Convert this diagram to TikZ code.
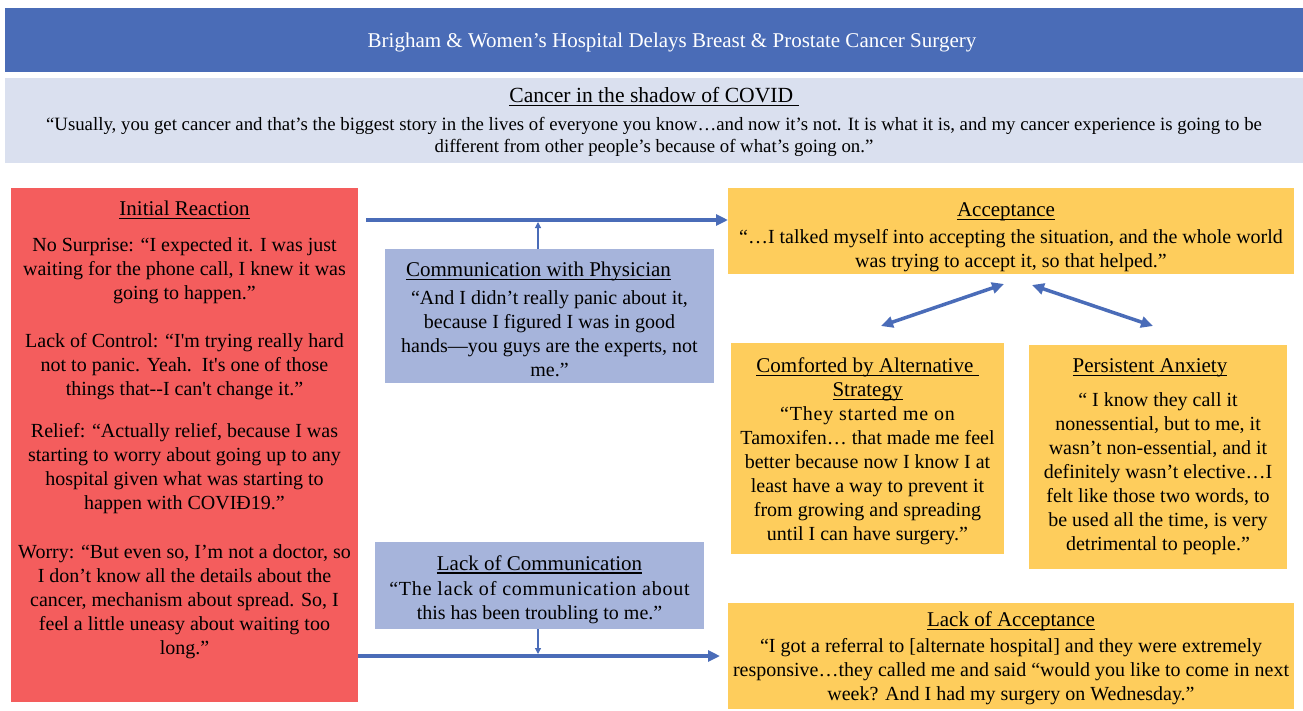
\documentclass[tikz,border=0pt]{standalone}
\usepackage{fontspec}
\setmainfont{Liberation Serif}
\usetikzlibrary{arrows.meta}
\definecolor{headblue}{HTML}{4A6CB7}
\definecolor{bandblue}{HTML}{DAE0EF}
\definecolor{redfill}{HTML}{F45D5D}
\definecolor{bluefill}{HTML}{A6B4DB}
\definecolor{goldfill}{HTML}{FECD5C}
\definecolor{arrowblue}{HTML}{4A6CB8}
\newcommand\undertext[1]{\setbox0\hbox{#1}\rlap{\rule[-3.5pt]{\wd0}{1.1pt}}\box0}
\newcommand\boxtitle[2][0pt]{{\fontsize{21}{24}\selectfont\rule{0pt}{#1}\undertext{#2}}}

\begin{document}
\begin{tikzpicture}[x=1pt,y=-1pt,
  panel/.style={inner sep=0pt,outer sep=0pt,align=center,font=\fontsize{20}{24}\selectfont},
  bigarrow/.style={arrowblue,line width=3.5pt,-{Triangle[length=12pt,width=11pt]}},
  smallarrow/.style={arrowblue,line width=1.2pt,-{Triangle[length=6pt,width=6pt]}},
  duoarrow/.style={arrowblue,line width=3.5pt,{Triangle[length=12pt,width=11pt]}-{Triangle[length=12pt,width=11pt]}}]
\useasboundingbox (0,0) rectangle (1303,710);

\node[panel,fill=headblue,text=white,font=\fontsize{21}{25}\selectfont,minimum width=1298pt,minimum height=64pt] (head) at (654,40)
  {\hspace*{36pt}\rule{0pt}{20pt}Brigham \& Women’s Hospital Delays Breast \& Prostate Cancer Surgery};
\node[panel,fill=bandblue,font=\fontsize{18.8}{22}\selectfont,minimum width=1298pt,minimum height=85pt] (band) at (654,120.5)
  {{\fontsize{21.6}{22}\selectfont\rule{0pt}{18.7pt}\undertext{Cancer in the shadow of COVID\ }}\\[6pt]
  “Usually, you get cancer and that’s the biggest story in the lives of everyone you know…and now it’s not. It is what it is, and my cancer experience is going to be\\
  different from other people’s because of what’s going on.”};

\node[panel,fill=redfill,minimum width=347pt,minimum height=514pt] (init) at (184.5,445)
  {\boxtitle{Initial Reaction}\\[12pt]
  No Surprise: “I expected it. I was just\\
  waiting for the phone call, I knew it was\\
  going to happen.”\\[24pt]
  Lack of Control: “I\textquotesingle m trying really hard\\
  not to panic. Yeah.\ \ It\textquotesingle s one of those\\
  things that-{}-I can\textquotesingle t change it.”\\[18pt]
  Relief: “Actually relief, because I was\\
  starting to worry about going up to any\\
  hospital given what was starting to\\
  happen with COVIĐ19.”\\[25pt]
  Worry: “But even so, I’m not a doctor, so\\
  I don’t know all the details about the\\
  cancer, mechanism about spread. So, I\\
  feel a little uneasy about waiting too\\
  long.”\\[11pt]\mbox{}};

\node[panel,fill=bluefill,minimum width=329pt,minimum height=134pt] (comm) at (549.5,316)
  {\hspace*{-22pt}\boxtitle[21.3pt]{Communication with Physician}\\[4pt]
  “And I didn’t really panic about it,\\
  because I figured I was in good\\
  hands—you guys are the experts, not\\
  me.”};
\node[panel,fill=bluefill,minimum width=329pt,minimum height=87pt] (lackcomm) at (539.5,585.5)
  {\boxtitle[22.3pt]{Lack of Communication}\\[1pt]
  {\addfontfeatures{LetterSpace=4}“The lack of communication about}\\
  this has been troubling to me.”};

\node[panel,fill=goldfill,minimum width=566pt,minimum height=86pt] (accept) at (1011,231)
  {\hspace*{-10pt}\boxtitle[26.3pt]{Acceptance}\\[3pt]
  “…I talked myself into accepting the situation, and the whole world\\
  was trying to accept it, so that helped.”};
\node[panel,fill=goldfill,minimum width=273pt,minimum height=211pt] (comfort) at (867.5,448.5)
  {\boxtitle[20.3pt]{Comforted by Alternative\ }\\
  \boxtitle{Strategy}\\
  {\addfontfeatures{LetterSpace=4}“They started me on}\\
  Tamoxifen… that made me feel\\
  better because now I know I at\\
  least have a way to prevent it\\
  from growing and spreading\\
  until I can have surgery.”};
\node[panel,fill=goldfill,minimum width=258pt,minimum height=224pt] (anxiety) at (1158,457)
  {\hspace*{-16pt}\boxtitle{Persistent Anxiety}\\[10pt]
  “ I know they call it\\
  nonessential, but to me, it\\
  wasn’t non-essential, and it\\
  definitely wasn’t elective…I\\
  felt like those two words, to\\
  be used all the time, is very\\
  detrimental to people.”};
\node[panel,fill=goldfill,minimum width=566pt,minimum height=106pt] (lackacc) at (1011,656)
  {\boxtitle[19.3pt]{Lack of Acceptance}\\[2pt]
  “I got a referral to [alternate hospital] and they were extremely\\
  responsive…they called me and said “would you like to come in next\\
  week? And I had my surgery on Wednesday.”};

\coordinate (ta) at (366,220);
\coordinate (tj) at (538,220);
\coordinate (ba) at (358,656);
\coordinate (bj) at (538,656);
\coordinate (bend) at (ba -| lackacc.west);
\draw[bigarrow] (ta) -- (ta -| accept.west);
\draw[smallarrow] (comm.north -| tj) -- ([yshift=-2pt]tj);
\draw[bigarrow] (ba) -- ([xshift=-8pt]bend);
\draw[smallarrow] (lackcomm.south -| bj) -- ([yshift=2pt]bj);

\coordinate (acc1) at (1004,284);
\coordinate (cmf) at (881,326);
\coordinate (acc2) at (1032,285);
\coordinate (anx) at (1153,326);
\draw[duoarrow] (cmf) -- (acc1);
\draw[duoarrow] (acc2) -- (anx);
\end{tikzpicture}
\end{document}
